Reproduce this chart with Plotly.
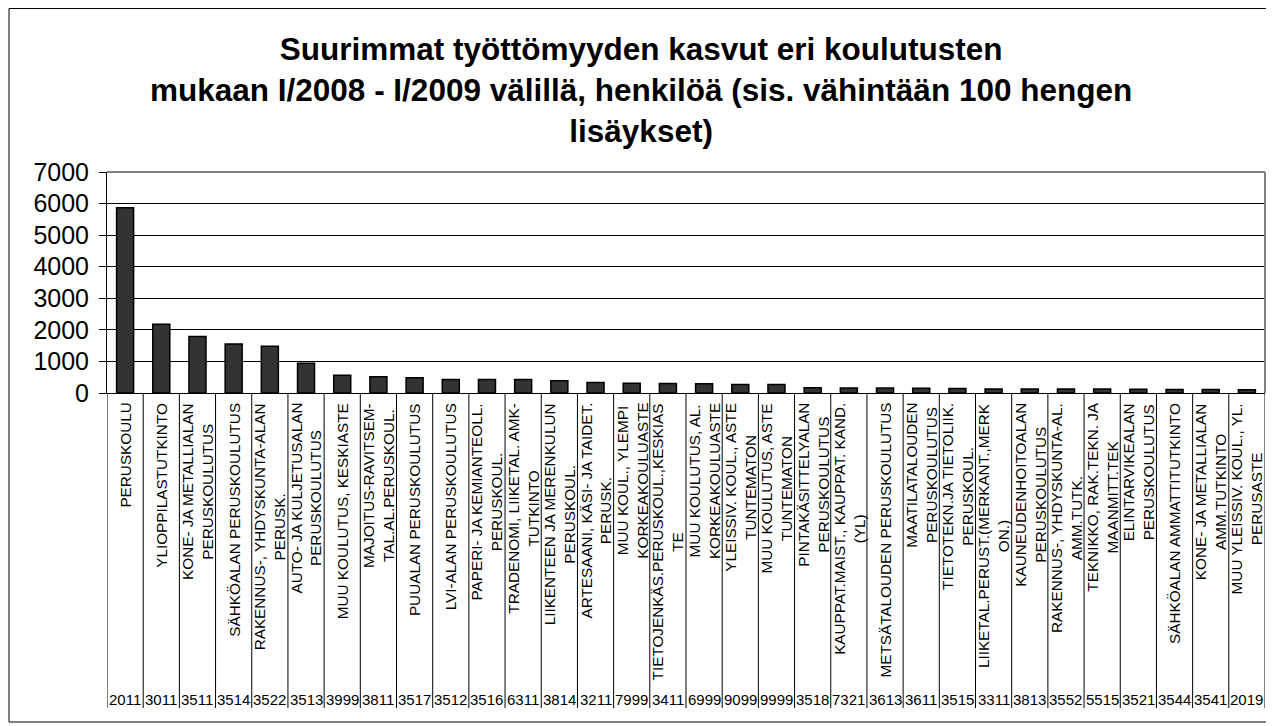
import plotly.graph_objects as go

codes = ["2011", "3011", "3511", "3514", "3522", "3513", "3999", "3811", "3517", "3512",
         "3516", "6311", "3814", "3211", "7999", "3411", "6999", "9099", "9999", "3518",
         "7321", "3613", "3611", "3515", "3311", "3813", "3552", "5515", "3521", "3544",
         "3541", "2019"]

labels = [
    ["PERUSKOULU"],
    ["YLIOPPILASTUTKINTO"],
    ["KONE- JA METALLIALAN", "PERUSKOULUTUS"],
    ["SÄHKÖALAN PERUSKOULUTUS"],
    ["RAKENNUS-, YHDYSKUNTA-ALAN", "PERUSK."],
    ["AUTO- JA KULJETUSALAN", "PERUSKOULUTUS"],
    ["MUU KOULUTUS, KESKIASTE"],
    ["MAJOITUS-RAVITSEM-", "TAL.AL.PERUSKOUL."],
    ["PUUALAN PERUSKOULUTUS"],
    ["LVI-ALAN PERUSKOULUTUS"],
    ["PAPERI- JA KEMIANTEOLL.", "PERUSKOUL."],
    ["TRADENOMI, LIIKETAL. AMK-", "TUTKINTO"],
    ["LIIKENTEEN JA MERENKULUN", "PERUSKOUL."],
    ["ARTESAANI, KÄSI- JA TAIDET.", "PERUSK."],
    ["MUU KOUL., YLEMPI", "KORKEAKOULUASTE"],
    ["TIETOJENKÄS.PERUSKOUL.,KESKIAS", "TE"],
    ["MUU KOULUTUS, AL.", "KORKEAKOULUASTE"],
    ["YLEISSIV. KOUL., ASTE", "TUNTEMATON"],
    ["MUU KOULUTUS, ASTE", "TUNTEMATON"],
    ["PINTAKÄSITTELYALAN", "PERUSKOULUTUS"],
    ["KAUPPAT.MAIST., KAUPPAT. KAND.", "(YL)"],
    ["METSÄTALOUDEN PERUSKOULUTUS"],
    ["MAATILATALOUDEN", "PERUSKOULUTUS"],
    ["TIETOTEKN.JA TIETOLIIK.", "PERUSKOUL."],
    ["LIIKETAL.PERUST.(MERKANT.,MERK", "ON.)"],
    ["KAUNEUDENHOITOALAN", "PERUSKOULUTUS"],
    ["RAKENNUS-, YHDYSKUNTA-AL.", "AMM.TUTK."],
    ["TEKNIKKO, RAK.TEKN. JA", "MAANMITT.TEK"],
    ["ELINTARVIKEALAN", "PERUSKOULUTUS"],
    ["SÄHKÖALAN AMMATTITUTKINTO"],
    ["KONE- JA METALLIALAN", "AMM.TUTKINTO"],
    ["MUU YLEISSIV. KOUL., YL.", "PERUSASTE"],
]

values = [5870, 2180, 1790, 1555, 1480, 945, 560, 515, 480, 430,
          428, 426, 385, 332, 310, 300, 290, 270, 268, 165,
          160, 155, 150, 140, 130, 128, 126, 125, 115, 112,
          110, 105]

y_ticks = [0, 1000, 2000, 3000, 4000, 5000, 6000, 7000]

title_lines = ["Suurimmat työttömyyden kasvut eri koulutusten",
               "mukaan I/2008 - I/2009 välillä, henkilöä (sis. vähintään 100 hengen",
               "lisäykset)"]

FONT = "Liberation Sans, Arial, sans-serif"
OFF = 8  # page body margin
W, H = 1266, 718
# plot area in page pixels: left 107, right 1265, top 172, bottom 393
L = 107 - OFF
T = 172 - OFF
R = W - (1265 - OFF)
B = H - (393 - OFF)
PW, PH = W - L - R, H - T - B


def py2paper(py):
    return (H - B - (py - OFF)) / PH


def px2paper(px):
    return ((px - OFF) - L) / PW


fig = go.Figure()
fig.add_trace(go.Bar(
    x=codes, y=values, width=0.47,
    marker=dict(color="#333333", line=dict(color="#000000", width=1.5)),
    showlegend=False, hoverinfo="x+y",
))

shapes = []
for i in range(len(codes) + 1):
    shapes.append(dict(type="line", xref="x", yref="paper",
                       x0=i - 0.5, x1=i - 0.5, y0=0, y1=py2paper(708),
                       line=dict(color="#000000", width=1)))
shapes.append(dict(type="line", xref="paper", yref="paper", x0=0, x1=1, y0=1, y1=1,
                   line=dict(color="#808080", width=2)))
shapes.append(dict(type="line", xref="paper", yref="paper", x0=1, x1=1, y0=0, y1=1,
                   line=dict(color="#808080", width=2)))
shapes.append(dict(type="rect", xref="paper", yref="paper",
                   x0=px2paper(9), x1=px2paper(1271),
                   y0=py2paper(722), y1=py2paper(8.5),
                   line=dict(color="#000000", width=1), fillcolor="rgba(0,0,0,0)",
                   layer="below"))

annotations = [dict(
    x=px2paper(641), xref="paper", y=py2paper(90), yref="paper",
    text="<b>" + "<br>".join(title_lines) + "</b>", showarrow=False,
    xanchor="center", yanchor="middle", align="center",
    font=dict(family=FONT, size=31.5, color="#000000"),
)]
for i, (code, lines) in enumerate(zip(codes, labels)):
    annotations.append(dict(
        x=i, xref="x", y=py2paper(401), yref="paper",
        text="<br>".join(lines), textangle=-90, showarrow=False,
        xanchor="center", yanchor="top", align="center",
        font=dict(family=FONT, size=15.3, color="#000000"),
    ))
    annotations.append(dict(
        x=i, xref="x", y=py2paper(699), yref="paper",
        text=code, showarrow=False, xanchor="center", yanchor="middle",
        font=dict(family=FONT, size=15, color="#000000"),
    ))

fig.update_layout(
    width=W, height=H,
    margin=dict(l=L, r=R, t=T, b=B, pad=0),
    paper_bgcolor="#ffffff", plot_bgcolor="#ffffff",
    bargap=0.53,
    xaxis=dict(type="category", range=[-0.5, len(codes) - 0.5],
               showticklabels=False, showgrid=False, zeroline=False,
               showline=True, linecolor="#000000", linewidth=1, ticks=""),
    yaxis=dict(range=[0, 7000], tickvals=y_ticks, ticktext=[str(v) for v in y_ticks],
               showgrid=True, gridcolor="#000000", gridwidth=1, zeroline=False,
               showline=True, linecolor="#000000", linewidth=1,
               ticks="outside", ticklen=7, tickcolor="#000000",
               ticklabelstandoff=5,
               tickfont=dict(family=FONT, size=25, color="#000000")),
    shapes=shapes, annotations=annotations,
)

fig.write_html("out.html")
